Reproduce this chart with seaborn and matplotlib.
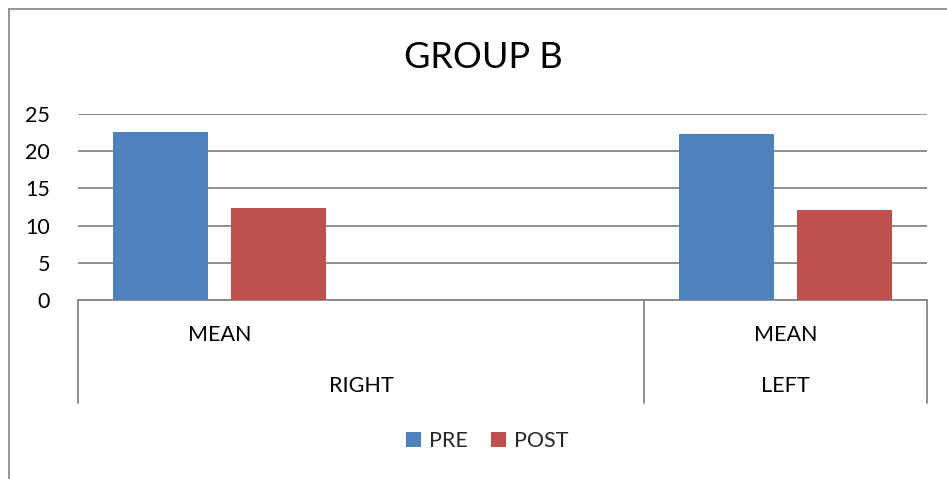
import matplotlib
matplotlib.use("Agg")
import matplotlib.pyplot as plt
from matplotlib.lines import Line2D
import matplotlib.transforms as mtransforms
import pandas as pd
import seaborn as sns

# ---- data ----
axis_groups = ["RIGHT", "RIGHT", "LEFT"]   # outer level of category axis
axis_labels = ["MEAN", "", "MEAN"]         # inner level of category axis
sides = ["RIGHT", "LEFT"]
series = ["PRE", "POST"]
pre = [22.6, 22.3]
post = [12.4, 12.1]
colors = ["#4F81BD", "#C0504D"]
title = "GROUP B"
yticks = [0, 5, 10, 15, 20, 25]

order = [f"{g} {l}" for g, l in zip(axis_groups, axis_labels)]
rows = []
for s, p, q in zip(sides, pre, post):
    rows.append({"cat": f"{s} MEAN", "series": "PRE", "value": p})
    rows.append({"cat": f"{s} MEAN", "series": "POST", "value": q})
df = pd.DataFrame(rows)

sns.set_theme(style="white")
plt.rcParams["font.family"] = ["Lato", "DejaVu Sans"]

W, H = 947, 479
fig = plt.figure(figsize=(W / 100, H / 100), dpi=100)
x0, x1, ytop, ybot = 78, 927, 114, 300
ax = fig.add_axes([x0 / W, 1 - ybot / H, (x1 - x0) / W, (ybot - ytop) / H])

sns.barplot(data=df, x="cat", y="value", hue="series", order=order,
            hue_order=series, palette=colors, width=0.84, gap=0.2,
            linewidth=0, saturation=1, ax=ax, legend=True, zorder=3)

FS = 15.5
ax.set_ylim(0, 25)
ax.set_xlim(-0.5, len(order) - 0.5)
ax.set_yticks(yticks)
ax.set_yticklabels([str(t) for t in yticks], fontsize=FS, color="black")
ax.tick_params(axis="y", length=0, pad=20)
ax.set_xticks(range(len(order)))
ax.set_xticklabels([])
ax.tick_params(axis="x", length=0)
ax.set_xlabel("")
ax.set_ylabel("")
for s in ["left", "right", "top"]:
    ax.spines[s].set_visible(False)
ax.spines["bottom"].set_color("#868686")
ax.spines["bottom"].set_linewidth(1.3)
ax.yaxis.grid(True, color="#868686", linewidth=1.3, zorder=0)
ax.set_axisbelow(True)

# multi-level category axis
trans = mtransforms.blended_transform_factory(ax.transData, ax.transAxes)
ax_h = ybot - ytop
depth = (403 - ybot) / ax_h
for xb in [-0.5, 1.5, 2.5]:
    ax.add_line(Line2D([xb, xb], [0, -depth], transform=trans, color="#868686",
                       linewidth=1.3, clip_on=False))
for i, lab in enumerate(axis_labels):
    if lab:
        ax.text(i, -(335 - ybot) / ax_h, lab, transform=trans, ha="center",
                va="center", fontsize=FS, color="black")
# outer group labels centered over their spans
spans = {}
for i, g in enumerate(axis_groups):
    spans.setdefault(g, []).append(i)
for g, idx in spans.items():
    ax.text(sum(idx) / len(idx), -(386 - ybot) / ax_h, g, transform=trans,
            ha="center", va="center", fontsize=FS, color="black")

# title
fig.text(483 / W, 1 - 57 / H, title, ha="center", va="center", fontsize=26,
         color="black")

# legend
handles, labels = ax.get_legend_handles_labels()
ax.get_legend().remove()
fig.legend(handles, labels, loc="center", bbox_to_anchor=(487 / W, 1 - 441 / H),
           ncol=2, frameon=False, fontsize=FS, handlelength=0.7,
           handleheight=0.7, handletextpad=0.35, columnspacing=1.1)

# outer chart border (top and left visible)
fig.add_artist(Line2D([9 / W, 1], [1 - 8.5 / H, 1 - 8.5 / H],
                      transform=fig.transFigure, color="#8c8c8c", linewidth=1.3))
fig.add_artist(Line2D([9 / W, 9 / W], [0, 1 - 8.5 / H],
                      transform=fig.transFigure, color="#8c8c8c", linewidth=1.3))

fig.savefig("out.png", dpi=100, facecolor="white")
